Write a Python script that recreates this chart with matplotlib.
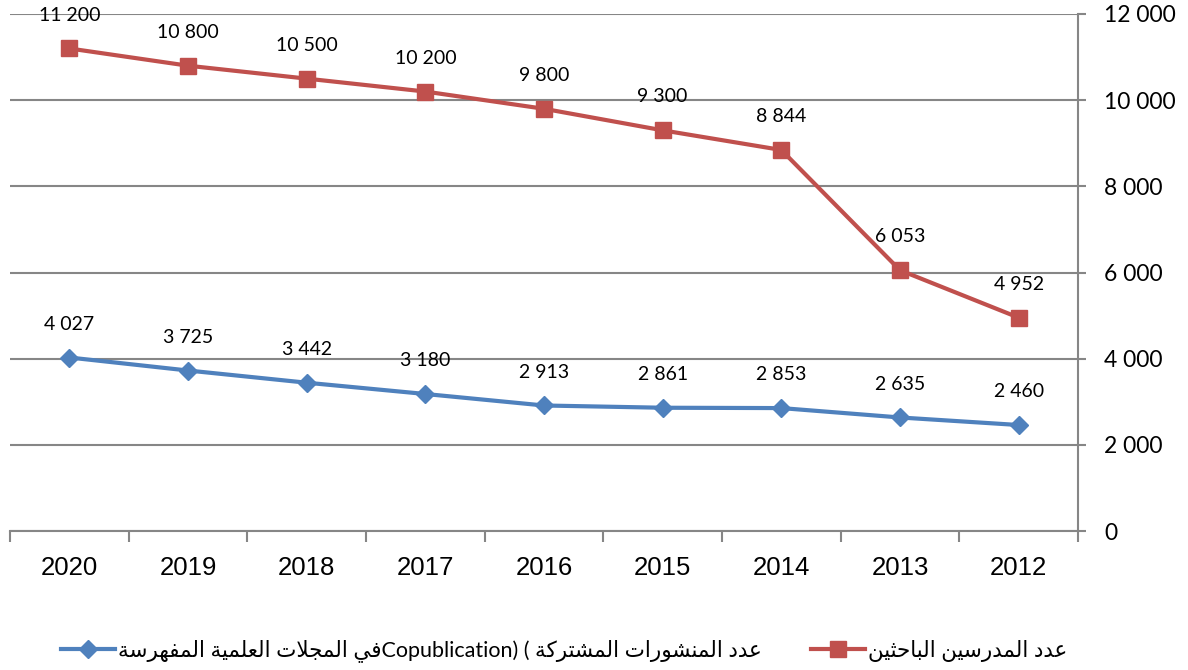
import matplotlib
matplotlib.use("Agg")
import matplotlib.pyplot as plt
from matplotlib.lines import Line2D

years = ["2020", "2019", "2018", "2017", "2016", "2015", "2014", "2013", "2012"]
researchers = [11200, 10800, 10500, 10200, 9800, 9300, 8844, 6053, 4952]
copubs = [4027, 3725, 3442, 3180, 2913, 2861, 2853, 2635, 2460]
yticks = [0, 2000, 4000, 6000, 8000, 10000, 12000]

RED = "#C0504D"
BLUE = "#4F81BD"
GRAY = "#868686"

# arabic presentation forms (isolated, final, initial, medial) - no shaping engine in mpl
FORMS = {
    'ا': (0xFE8D, 0xFE8E),
    'ب': (0xFE8F, 0xFE90, 0xFE91, 0xFE92),
    'ة': (0xFE93, 0xFE94),
    'ت': (0xFE95, 0xFE96, 0xFE97, 0xFE98),
    'ث': (0xFE99, 0xFE9A, 0xFE9B, 0xFE9C),
    'ج': (0xFE9D, 0xFE9E, 0xFE9F, 0xFEA0),
    'ح': (0xFEA1, 0xFEA2, 0xFEA3, 0xFEA4),
    'د': (0xFEA9, 0xFEAA),
    'ر': (0xFEAD, 0xFEAE),
    'س': (0xFEB1, 0xFEB2, 0xFEB3, 0xFEB4),
    'ش': (0xFEB5, 0xFEB6, 0xFEB7, 0xFEB8),
    'ع': (0xFEC9, 0xFECA, 0xFECB, 0xFECC),
    'ف': (0xFED1, 0xFED2, 0xFED3, 0xFED4),
    'ك': (0xFED9, 0xFEDA, 0xFEDB, 0xFEDC),
    'ل': (0xFEDD, 0xFEDE, 0xFEDF, 0xFEE0),
    'م': (0xFEE1, 0xFEE2, 0xFEE3, 0xFEE4),
    'ن': (0xFEE5, 0xFEE6, 0xFEE7, 0xFEE8),
    'ه': (0xFEE9, 0xFEEA, 0xFEEB, 0xFEEC),
    'و': (0xFEED, 0xFEEE),
    'ي': (0xFEF1, 0xFEF2, 0xFEF3, 0xFEF4),
}


def rtl(s):
    out = []
    i = 0
    while i < len(s):
        c = s[i]
        if c not in FORMS:
            out.append(c)
            i += 1
            continue
        prev = s[i - 1] if i > 0 else ''
        joins_prev = prev in FORMS and len(FORMS[prev]) == 4
        if c == 'ل' and i + 1 < len(s) and s[i + 1] == 'ا':
            out.append(chr(0xFEFC if joins_prev else 0xFEFB))
            i += 2
            continue
        nxt = s[i + 1] if i + 1 < len(s) else ''
        f = FORMS[c]
        joins_next = len(f) == 4 and nxt in FORMS
        if joins_prev and joins_next:
            g = f[3]
        elif joins_prev:
            g = f[1]
        elif joins_next:
            g = f[2]
        else:
            g = f[0]
        out.append(chr(g))
        i += 1
    return ''.join(reversed(out))


label_red = rtl("عدد المدرسين الباحثين")
label_blue = rtl("في المجلات العلمية المفهرسة") + "Copublication) ( " + rtl("عدد المنشورات المشتركة")


def fmt(v):
    return f"{v:,}".replace(",", " ")


fig = plt.figure(figsize=(11.88, 6.7), dpi=100)
ax = fig.add_axes([10 / 1188, 1 - 531 / 670, 1068 / 1188, 517 / 670])

x = list(range(len(years)))
ax.plot(x, researchers, color=RED, lw=3, marker="s", ms=12, zorder=3, clip_on=False)
ax.plot(x, copubs, color=BLUE, lw=3, marker="D", ms=9, zorder=3, clip_on=False)

for xi, v in zip(x, researchers):
    ax.annotate(fmt(v), (xi, v), xytext=(0, 24), textcoords="offset points",
                ha="center", va="center", fontsize=14, family="Lato", annotation_clip=False)
for xi, v in zip(x, copubs):
    ax.annotate(fmt(v), (xi, v), xytext=(0, 24), textcoords="offset points",
                ha="center", va="center", fontsize=14, family="Lato", annotation_clip=False)

ax.set_xlim(-0.5, len(years) - 0.5)
ax.set_ylim(0, 12000)

# y axis on the right
ax.yaxis.tick_right()
ax.set_yticks(yticks)
ax.set_yticklabels([fmt(t) for t in yticks], family="Lato", fontsize=16.5)
ax.tick_params(axis="y", direction="out", length=6, width=1.5, color=GRAY, pad=13)
ax.grid(axis="y", color=GRAY, lw=1.5)
ax.set_axisbelow(True)

# category boundaries as ticks, labels in the middle
ax.set_xticks([i - 0.5 for i in range(len(years) + 1)])
ax.set_xticklabels([])
ax.set_xticks(x, minor=True)
ax.set_xticklabels(years, minor=True, family="Liberation Sans", fontsize=18.5)
ax.tick_params(axis="x", which="major", direction="out", length=8, width=1.5, color=GRAY)
ax.tick_params(axis="x", which="minor", length=0, pad=18)

for s in ["left", "top"]:
    ax.spines[s].set_visible(False)
for s in ["right", "bottom"]:
    ax.spines[s].set_color(GRAY)
    ax.spines[s].set_linewidth(1.5)

handles = [
    Line2D([], [], color=BLUE, lw=3, marker="D", ms=9),
    Line2D([], [], color=RED, lw=3, marker="s", ms=12),
]
fig.legend(handles, [label_blue, label_red], loc="center", ncol=2,
           bbox_to_anchor=(0.475, 1 - 651 / 670), frameon=False,
           prop={"family": ["Lato", "DejaVu Sans"], "size": 15.5},
           handlelength=2.5, handletextpad=0.15, columnspacing=2.3)

fig.savefig("out.png", dpi=100)
